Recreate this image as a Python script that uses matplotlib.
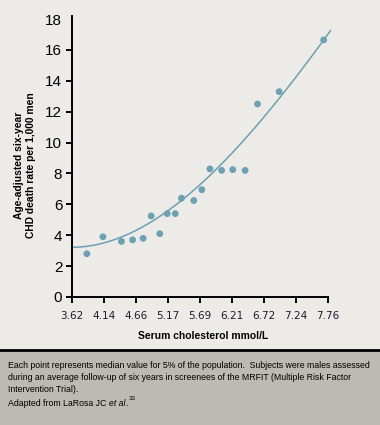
import matplotlib
matplotlib.use("Agg")
import matplotlib.pyplot as plt
import numpy as np

# scatter points (serum cholesterol mmol/L, CHD death rate per 1,000)
chol = [3.86, 4.12, 4.42, 4.60, 4.77, 4.90, 5.04, 5.16, 5.29, 5.39,
        5.59, 5.72, 5.85, 6.04, 6.22, 6.42, 6.62, 6.97, 7.69]
rate = [2.8, 3.9, 3.6, 3.7, 3.8, 5.25, 4.1, 5.4, 5.4, 6.4,
        6.25, 6.95, 8.3, 8.2, 8.25, 8.2, 12.5, 13.3, 16.65]

# trend curve, read at a few places along the drawn line
curve_x = [3.64, 4.23, 4.77, 5.15, 5.42, 5.96, 6.50, 6.66, 7.09, 7.77]
curve_y = [3.26, 3.58, 4.45, 5.42, 6.61, 8.44, 10.49, 11.14, 13.62, 17.08]

xticks = [3.62, 4.14, 4.66, 5.17, 5.69, 6.21, 6.72, 7.24, 7.76]
yticks = [0, 2, 4, 6, 8, 10, 12, 14, 16, 18]

caption = ["Each point represents median value for 5% of the population.  Subjects were males assessed",
           "during an average follow-up of six years in screenees of the MRFIT (Multiple Risk Factor",
           "Intervention Trial)."]

bg = '#ECEBE7'
blue = '#6DA0B2'
narrow = ['Liberation Sans Narrow', 'Liberation Sans', 'DejaVu Sans']

fig = plt.figure(figsize=(3.8, 4.25), dpi=100, facecolor=bg)
ax = fig.add_axes([72/380, 1 - 297/425, 256/380, (297 - 16)/425])
ax.set_facecolor(bg)

# smooth version of the read curve
coef = np.polyfit(curve_x, curve_y, 3)
xs = np.linspace(3.62, 7.80, 100)
ax.plot(xs, np.polyval(coef, xs), color=blue, lw=1.1, clip_on=False)
ax.scatter(chol, rate, s=24, color=blue, edgecolors='none', zorder=3)

ax.set_xlim(3.62, 7.76)
ax.set_ylim(0, 18.2)
ax.set_xticks(xticks)
ax.set_xticklabels([f"{v:.2f}" for v in xticks], fontsize=7.5, family='DejaVu Sans', color='#1c1c2c')
ax.set_yticks(yticks)
ax.set_yticklabels([str(v) for v in yticks], fontsize=11, family='Liberation Sans')
ax.tick_params(length=4, width=1.4, pad=3)
ax.tick_params(axis='x', pad=6)
ax.yaxis.get_major_ticks()[-1].tick1line.set_visible(False)
for s in ['top', 'right']:
    ax.spines[s].set_visible(False)
for s in ['left', 'bottom']:
    ax.spines[s].set_linewidth(1.4)

fig.text(25/380, 1 - 165/425, "Age-adjusted six-year\nCHD death rate per 1,000 men",
         rotation=90, ha='center', va='center', fontsize=7.4, fontweight='bold',
         family=narrow, linespacing=1.2)
fig.text(203/380, 1 - 336/425, "Serum cholesterol mmol/L", ha='center', va='center',
         fontsize=7.4, fontweight='bold', family=narrow)

# caption box
fig.patches.append(plt.Rectangle((0, 0), 1, 1 - 350/425, transform=fig.transFigure,
                                 facecolor='#BDBAB4', edgecolor='none'))
fig.add_artist(plt.Line2D([0, 1], [1 - 350/425, 1 - 350/425], transform=fig.transFigure,
                          color='black', lw=2))
for i, line in enumerate(caption):
    fig.text(8/380, 1 - (365 + 12 * i)/425, line, ha='left', va='center', fontsize=6.3,
             family=narrow)

# "Adapted from LaRosa JC et al.33" assembled from pieces
fig.canvas.draw()
r = fig.canvas.get_renderer()
y0 = 1 - 403/425
t1 = fig.text(8/380, y0, "Adapted from LaRosa JC ", ha='left', va='center', fontsize=6.3, family=narrow)
x = t1.get_window_extent(r).x1 / fig.bbox.width
t2 = fig.text(x, y0, "et al", ha='left', va='center', fontsize=6.3, family=narrow, style='italic')
x = t2.get_window_extent(r).x1 / fig.bbox.width
t3 = fig.text(x, y0, ".", ha='left', va='center', fontsize=6.3, family=narrow)
x = t3.get_window_extent(r).x1 / fig.bbox.width
fig.text(x + 1/380, y0 + 4/425, "33", ha='left', va='center', fontsize=4.5, family=narrow)

fig.savefig('out.png', dpi=100, facecolor=bg)
